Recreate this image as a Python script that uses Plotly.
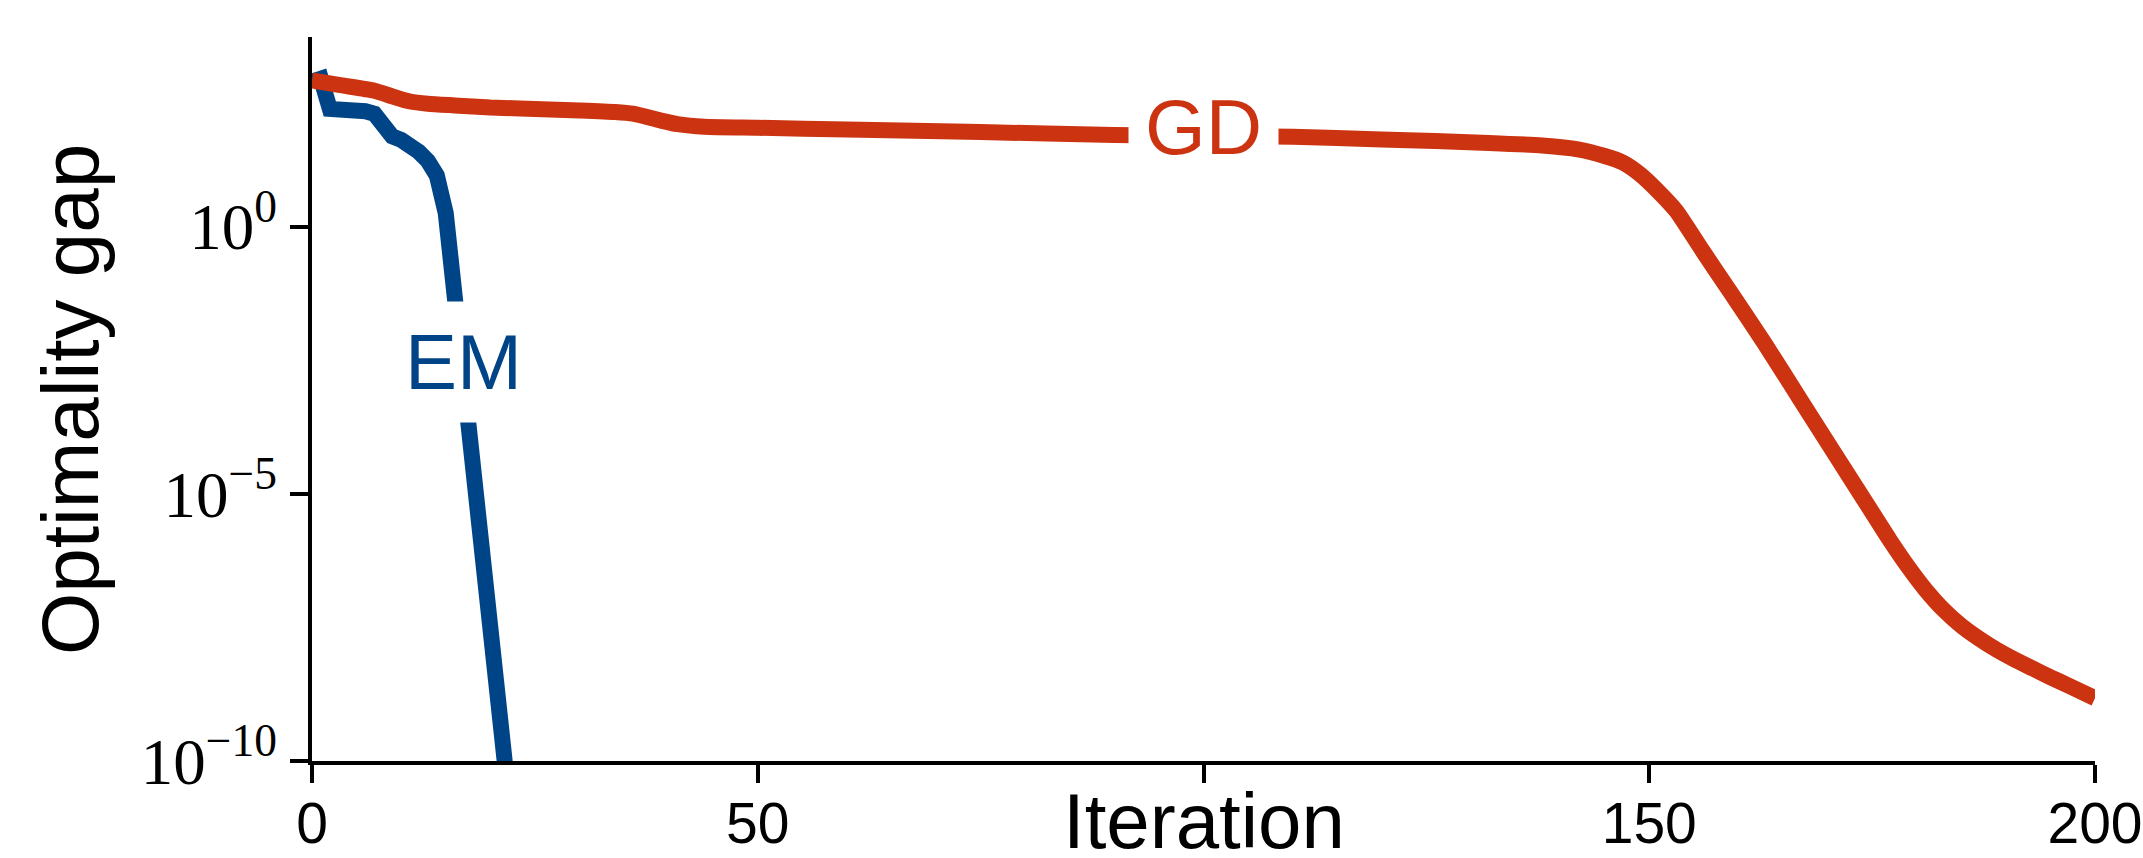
import plotly.graph_objects as go

# ---- data ----
em_iter = [0, 1, 2, 3, 4, 5, 6, 7, 8, 9, 10, 11, 12, 13, 14, 15, 16, 17, 18, 19, 20, 21, 22]
em_gap = [5.2e2, 5.9e2, 1.6e2, 1.6e2, 1.55e2, 1.5e2, 1.45e2, 1.3e2, 7.6e1, 4.9e1, 4.2e1,
          3.4e1, 2.5e1, 1.7e1, 9.1, 1.8, 5.0e-2, 1.4e-3, 4.0e-5, 1.1e-6, 3.2e-8, 8.9e-10, 2.5e-11]

gd_iter = [0, 3, 7, 9, 11, 13, 16, 20, 25, 30, 34, 36, 39, 41, 44, 50, 60, 75, 90, 100, 110,
           120, 126, 132, 138, 142, 145, 147, 149, 151, 153, 156, 159, 163, 167, 171, 175,
           177, 179, 181, 183, 185, 187, 189, 191, 193, 195, 197, 200]
gd_gap = [5.5e2, 4.5e2, 3.5e2, 2.75e2, 2.2e2, 2.0e2, 1.86e2, 1.7e2, 1.6e2, 1.5e2, 1.4e2,
          1.3e2, 9.8e1, 8.3e1, 7.4e1, 7.1e1, 6.6e1, 5.9e1, 5.2e1, 5.0e1, 4.8e1, 4.3e1, 4.0e1,
          3.7e1, 3.3e1, 2.8e1, 2.1e1, 1.6e1, 9.5, 4.6, 2.0, 3.5e-1, 6.3e-2, 6.3e-3, 5.6e-4,
          5.0e-5, 4.5e-6, 1.35e-6, 4.4e-7, 1.6e-7, 6.8e-8, 3.4e-8, 1.95e-8, 1.2e-8, 7.9e-9,
          5.4e-9, 3.7e-9, 2.6e-9, 1.5e-9]

x_tickvals = [0, 50, 100, 150, 200]
x_ticktext = ["0", "50", "", "150", "200"]
y_tickvals = [1e0, 1e-5, 1e-10]
y_ticktext = ["10<sup>0</sup>", "10<sup>\u22125</sup>", "10<sup>\u221210</sup>"]

em_label = {"text": "EM", "x": 16.94, "y": -2.53}
gd_label = {"text": "GD", "x": 100.0, "y": 1.87}

EM_COLOR = "#004488"
GD_COLOR = "#CC3311"
SANS = "Liberation Sans"
SERIF = "Liberation Serif"

fig = go.Figure()
fig.add_trace(go.Scatter(x=em_iter, y=em_gap, mode="lines",
                         line=dict(color=EM_COLOR, width=16), showlegend=False))
fig.add_trace(go.Scatter(x=gd_iter, y=gd_gap, mode="lines",
                         line=dict(color=GD_COLOR, width=16, shape="spline", smoothing=0.6),
                         showlegend=False))

for lab, col in ((em_label, EM_COLOR), (gd_label, GD_COLOR)):
    fig.add_annotation(x=lab["x"], y=lab["y"], xref="x", yref="y", text=lab["text"],
                       showarrow=False, font=dict(family=SANS, size=78, color=col),
                       bgcolor="white", borderpad=16, xanchor="center", yanchor="middle")

# axis titles as annotations
fig.add_annotation(x=0.5, y=-0.083, xref="paper", yref="paper", text="Iteration",
                   showarrow=False, font=dict(family=SANS, size=78, color="black"),
                   xanchor="center", yanchor="middle")
fig.add_annotation(x=-0.1357, y=0.4986, xref="paper", yref="paper", text="Optimality gap",
                   showarrow=False, textangle=-90,
                   font=dict(family=SANS, size=80, color="black"),
                   xanchor="center", yanchor="middle")

fig.update_layout(
    width=2143, height=858,
    margin=dict(l=312, r=48, t=37, b=97, autoexpand=False),
    paper_bgcolor="white", plot_bgcolor="white",
    xaxis=dict(range=[0, 200], showgrid=False, zeroline=False, showline=True,
               automargin=False,
               linecolor="black", linewidth=4, ticks="outside", ticklen=18,
               tickwidth=4, tickcolor="black", tickvals=x_tickvals, ticktext=x_ticktext,
               ticklabelstandoff=-8,
               tickfont=dict(family=SANS, size=57, color="black")),
    yaxis=dict(type="log", range=[-10, 3.55], showgrid=False, zeroline=False, showline=True,
               automargin=False,
               linecolor="black", linewidth=4, ticks="outside", ticklen=18,
               tickwidth=4, tickcolor="black", tickvals=y_tickvals, ticktext=y_ticktext,
               tickfont=dict(family=SERIF, size=65, color="black")),
)

fig.write_html("out.html", config={"displayModeBar": False},
               post_script="document.body.style.margin='0';")
